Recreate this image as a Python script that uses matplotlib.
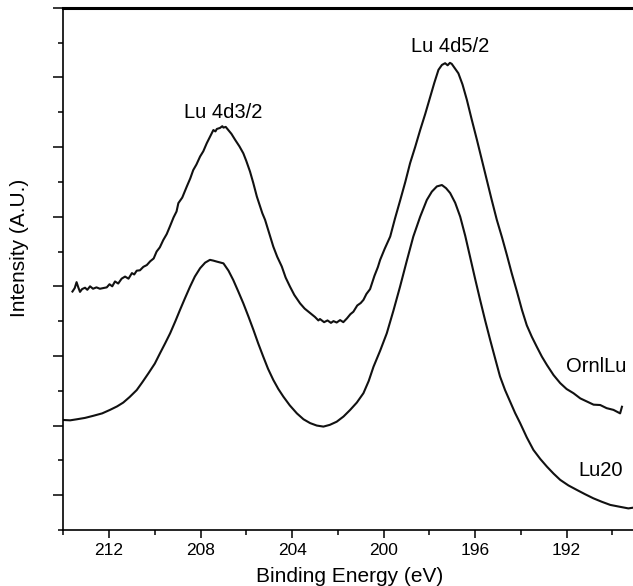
import matplotlib
matplotlib.use("Agg")
import matplotlib.pyplot as plt
from matplotlib.ticker import MultipleLocator, NullFormatter

plt.rcParams['font.family'] = ['Liberation Sans', 'DejaVu Sans']

# OrnlLu spectrum (binding energy in eV, intensity in A.U.)
ornl_ev = [213.60, 213.50, 213.42, 213.35, 213.27, 213.18, 213.05, 212.95, 212.83, 212.70,
           212.55, 212.40, 212.25, 212.10, 211.98, 211.86, 211.74, 211.60, 211.45, 211.30,
           211.15, 211.00, 210.90, 210.79, 210.65, 210.50, 210.35, 210.20, 210.05, 209.92,
           209.78, 209.63, 209.48, 209.34, 209.18, 209.05, 208.97, 208.80, 208.60, 208.45,
           208.32, 208.18, 208.02, 207.88, 207.73, 207.60, 207.44, 207.35, 207.29, 207.15,
           207.05, 207.00, 206.90, 206.79, 206.65, 206.49, 206.30, 206.13, 206.00, 205.84,
           205.70, 205.54, 205.40, 205.30, 205.18, 205.00, 204.82, 204.65, 204.45, 204.28,
           204.09, 203.90, 203.65, 203.45, 203.21, 203.00, 202.85, 202.78, 202.60, 202.45,
           202.30, 202.19, 202.05, 201.90, 201.76, 201.60, 201.45, 201.32, 201.15, 201.00,
           200.88, 200.75, 200.59, 200.40, 200.25, 200.15, 199.95, 199.71, 199.50, 199.27,
           199.05, 198.84, 198.62, 198.40, 198.18, 197.96, 197.78, 197.60, 197.45, 197.31,
           197.20, 197.10, 197.02, 196.90, 196.73, 196.55, 196.36, 196.15, 195.92, 195.70,
           195.49, 195.28, 195.05, 194.82, 194.61, 194.40, 194.17, 193.95, 193.74, 193.52,
           193.30, 193.08, 192.86, 192.57, 192.28, 192.00, 191.70, 191.40, 191.11, 190.82,
           190.53, 190.25, 189.95, 189.80, 189.66, 189.58]
ornl_int = [5.85, 5.95, 6.12, 5.98, 5.84, 5.92, 5.96, 5.90, 6.00, 5.93,
            5.97, 5.93, 5.95, 5.97, 6.06, 6.00, 6.14, 6.08, 6.22, 6.28,
            6.22, 6.38, 6.34, 6.45, 6.46, 6.56, 6.61, 6.72, 6.80, 7.00,
            7.12, 7.33, 7.50, 7.72, 7.98, 8.15, 8.39, 8.55, 8.87, 9.10,
            9.34, 9.50, 9.73, 9.88, 10.11, 10.28, 10.49, 10.45, 10.52, 10.55,
            10.60, 10.56, 10.58, 10.49, 10.38, 10.21, 10.02, 9.82, 9.60, 9.30,
            8.98, 8.58, 8.30, 8.10, 7.91, 7.52, 7.14, 6.85, 6.57, 6.25,
            5.99, 5.75, 5.51, 5.36, 5.23, 5.12, 5.02, 5.06, 4.97, 5.02,
            4.95, 5.00, 4.96, 5.03, 4.97, 5.08, 5.20, 5.27, 5.45, 5.52,
            5.61, 5.78, 5.92, 6.30, 6.55, 6.76, 7.08, 7.43, 7.95, 8.48,
            9.00, 9.54, 10.00, 10.49, 10.95, 11.45, 11.85, 12.22, 12.36, 12.41,
            12.35, 12.42, 12.39, 12.28, 12.12, 11.80, 11.36, 10.80, 10.21, 9.62,
            9.06, 8.50, 7.91, 7.40, 6.90, 6.38, 5.85, 5.32, 4.88, 4.55,
            4.26, 3.98, 3.74, 3.45, 3.22, 3.05, 2.93, 2.78, 2.69, 2.60,
            2.59, 2.50, 2.45, 2.40, 2.35, 2.54]

# Lu20 spectrum
lu20_ev = [214.00, 213.70, 213.41, 213.05, 212.69, 212.30, 211.96, 211.65, 211.38, 211.10,
           210.79, 210.55, 210.28, 210.00, 209.77, 209.55, 209.33, 209.10, 208.90, 208.68,
           208.46, 208.25, 208.02, 207.80, 207.59, 207.45, 207.29, 207.00, 206.78, 206.57,
           206.35, 206.13, 205.90, 205.69, 205.48, 205.26, 205.05, 204.82, 204.60, 204.38,
           204.10, 203.79, 203.50, 203.21, 202.92, 202.63, 202.35, 202.05, 201.75, 201.46,
           201.17, 200.88, 200.65, 200.44, 200.15, 199.86, 199.57, 199.28, 198.99, 198.70,
           198.40, 198.11, 197.89, 197.67, 197.45, 197.27, 197.09, 196.87, 196.65, 196.43,
           196.22, 196.00, 195.78, 195.56, 195.34, 195.12, 194.91, 194.69, 194.47, 194.25,
           194.03, 193.74, 193.45, 193.15, 192.86, 192.57, 192.28, 191.92, 191.55, 191.20,
           190.83, 190.46, 190.09, 189.70, 189.30, 189.10]
lu20_int = [2.16, 2.15, 2.18, 2.22, 2.28, 2.35, 2.45, 2.55, 2.66, 2.82,
            3.02, 3.24, 3.50, 3.78, 4.08, 4.36, 4.65, 5.00, 5.32, 5.66,
            5.99, 6.28, 6.52, 6.68, 6.76, 6.74, 6.71, 6.66, 6.45, 6.18,
            5.85, 5.51, 5.12, 4.75, 4.36, 3.98, 3.63, 3.31, 3.05, 2.83,
            2.58, 2.35, 2.18, 2.07, 2.00, 1.97, 2.02, 2.11, 2.26, 2.45,
            2.66, 2.93, 3.28, 3.69, 4.15, 4.65, 5.30, 5.99, 6.72, 7.43,
            8.00, 8.48, 8.72, 8.87, 8.91, 8.82, 8.68, 8.40, 8.00, 7.45,
            6.85, 6.22, 5.61, 5.02, 4.46, 3.92, 3.41, 3.02, 2.69, 2.36,
            2.07, 1.66, 1.30, 1.04, 0.82, 0.62, 0.44, 0.28, 0.15, 0.03,
            -0.09, -0.19, -0.28, -0.33, -0.38, -0.36]

# (text, x in eV, y in A.U.)
labels = [('Lu 4d3/2', 207.02, 10.98),
          ('Lu 4d5/2', 197.11, 12.88),
          ('OrnlLu', 190.71, 3.71),
          ('Lu20', 190.53, 0.70)]

fig = plt.figure(figsize=(6.33, 5.86), dpi=100)
ax = fig.add_axes([0.1, 0.0956, 0.9035, 0.891])

ax.plot(ornl_ev, ornl_int, color='#111111', lw=1.5)
ax.plot(lu20_ev, lu20_int, color='#111111', lw=1.5)

for txt, x, y in labels:
    ax.text(x, y, txt, fontsize=14.5, ha='center', va='center')

ax.set_xlim(214, 189)
ax.set_ylim(-1, 14)

ax.xaxis.set_major_locator(MultipleLocator(4))
ax.xaxis.set_minor_locator(MultipleLocator(2))
ax.yaxis.set_major_locator(MultipleLocator(2))
ax.yaxis.set_minor_locator(MultipleLocator(1))
ax.yaxis.set_major_formatter(NullFormatter())

ax.tick_params(axis='x', which='major', direction='out', length=5.5, width=1.1,
               labelsize=12.5, pad=4)
ax.tick_params(axis='x', which='minor', direction='out', length=3.8, width=1.1)
ax.tick_params(axis='y', which='major', direction='out', length=7, width=1.1)
ax.tick_params(axis='y', which='minor', direction='out', length=3.6, width=1.1)

ax.spines['right'].set_visible(False)
ax.spines['top'].set_linewidth(2.2)
ax.spines['left'].set_linewidth(1.2)
ax.spines['bottom'].set_linewidth(1.2)

ax.set_xlabel('Binding Energy (eV)', fontsize=15, labelpad=6)
ax.set_ylabel('Intensity (A.U.)', fontsize=15, va='center')
ax.yaxis.set_label_coords(-0.077, 0.54)

fig.savefig('out.png', dpi=100)
